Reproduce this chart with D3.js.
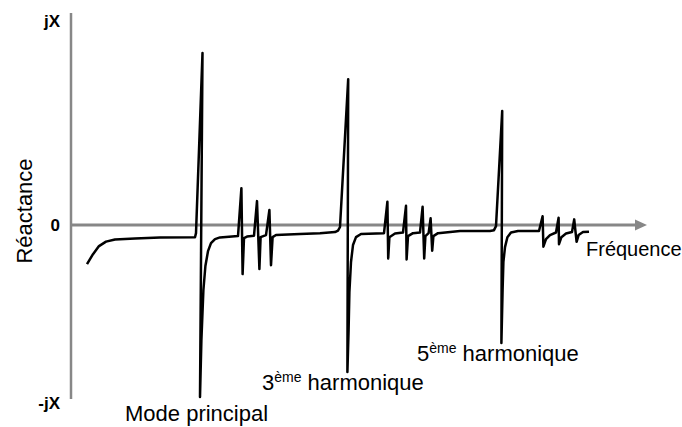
<!DOCTYPE html>
<html>
	<head>
		<meta charset="utf-8">
		<title>Réactance</title>
		<script src="https://d3js.org/d3.v7.min.js"></script>
		<style>
			body { margin: 0; background-color: white }
			#plot { width: 682px; height: 427px }
			text { font-family: 'Liberation Sans', Arial, sans-serif }
		</style>
	</head>
	<body>
		<div id='plot'></div>
		<script>
			// frequency (arbitrary units) and reactance (% of jX)
			var freq = [4.0, 5.5, 7.0, 8.75, 11.0, 16.0, 22.25, 31.0, 31.25, 32.875, 32.25, 32.6, 33.1, 33.6, 34.25, 35.0, 36.0, 37.25,
				41.75, 42.6, 42.9, 43.25, 44.0, 45.75, 46.5, 47.1, 47.4, 48.75, 49.6, 50.0, 50.4, 51.25, 57.25, 62.25,
				66.0, 66.75, 67.25, 69.3, 69.1, 69.4, 69.6, 70.0, 70.5, 71.25, 72.5, 78.25,
				79.1, 79.3, 79.6, 81.0, 83.0, 83.75, 83.9, 84.25, 85.5, 87.25, 87.9, 88.3, 88.6, 89.4, 89.9, 90.3, 90.6, 91.75, 97.25,
				104.75, 105.75, 106.25, 107.8, 107.6, 107.9, 108.1, 108.5, 109.1, 110.0, 111.75, 117.0,
				117.9, 118.1, 118.75, 119.75, 121.25, 121.9, 122.0, 122.6, 123.75, 125.25, 125.8, 126.4, 126.9, 128.0, 129.5]
			var reactance = [-18.4, -13.7, -9.9, -7.8, -6.8, -6.3, -5.9, -5.7, -3.8, 81.1, -81.1, -54.2, -30.6, -19.3, -12.3, -8.5, -6.6, -5.8,
				-5.2, 17.4, -23.1, -6.1, -5.4, -5.0, 11.3, -20.7, -5.7, -4.7, 7.1, -18.9, -5.7, -4.7, -4.2, -3.8,
				-3.3, -2.6, -0.9, 68.8, -69.3, -49.5, -31.6, -17.4, -9.4, -5.7, -4.2, -3.8,
				11.0, -15.7, -5.7, -4.0, -3.5, 9.1, -16.2, -5.2, -3.8, -3.5, 8.6, -15.7, -5.2, -3.8, 3.2, -12.1, -5.2, -3.8, -2.8,
				-2.8, -2.4, -0.5, 53.8, -55.6, -30.6, -17.4, -10.4, -5.7, -3.5, -2.8, -2.8,
				4.2, -10.2, -6.6, -4.7, -3.5, 3.5, -9.0, -5.7, -4.0, -3.3, 2.7, -7.9, -4.7, -3.3, -3.1]

			var yLabels = ['jX', '0', '-jX']
			var yLabelValues = [100, 0, -82]
			var modeLabels = [
				{num: '', sup: '', txt: 'Mode principal'},
				{num: '3', sup: 'ème', txt: ' harmonique'},
				{num: '5', sup: 'ème', txt: ' harmonique'}
			]

			var width = 682, height = 427
			var svg = d3.select('#plot').append('svg')
						.attr('width', width)
						.attr('height', height)

			var x = d3.scaleLinear().domain([0, 144]).range([71, 647])
			var y = d3.scaleLinear().domain([-82, 100]).range([399, 13])

		//AXES
			svg.append('line')
				.attr('x1', x(0)).attr('x2', x(0))
				.attr('y1', y(100)).attr('y2', y(-82))
				.attr('stroke', '#878787')
				.attr('stroke-width', 2.5)
			svg.append('line')
				.attr('x1', x(0)).attr('x2', x(144) - 10)
				.attr('y1', y(0)).attr('y2', y(0))
				.attr('stroke', '#878787')
				.attr('stroke-width', 3)
			svg.append('path')
				.attr('d', 'M' + x(144) + ',' + y(0) + 'L' + (x(144) - 12) + ',' + (y(0) - 5.5) + 'L' + (x(144) - 12) + ',' + (y(0) + 5.5) + 'Z')
				.attr('fill', '#878787')

			var labelDy = [14, 6, 10]
			svg.selectAll('.ylab')
				.data(yLabels)
				.enter()
				.append('text')
					.attr('class', 'ylab')
					.attr('x', 60)
					.attr('y', function(d, i) { return y(yLabelValues[i]) + labelDy[i] })
					.attr('text-anchor', 'end')
					.attr('font-weight', 'bold')
					.attr('font-size', '17px')
					.text(function(d) { return d })

			svg.append('text')
				.attr('transform', 'translate(32,211) rotate(-90)')
				.attr('text-anchor', 'middle')
				.attr('font-size', '22px')
				.text('Réactance')

			svg.append('text')
				.attr('x', 586)
				.attr('y', 256)
				.attr('font-size', '20px')
				.text('Fréquence')

		//CURVE
			var pts = freq.map(function(f, i) { return [f, reactance[i]] })
			var line = d3.line()
				.x(function(d) { return x(d[0]) })
				.y(function(d) { return y(d[1]) })

			svg.append('path')
				.datum(pts)
				.attr('d', line)
				.attr('fill', 'none')
				.attr('stroke', 'black')
				.attr('stroke-width', 2.5)
				.attr('stroke-linejoin', 'round')

		//MODE LABELS
			var labelPos = [[125, 421], [262, 390], [417, 361]]
			var lab = svg.selectAll('.mode')
				.data(modeLabels)
				.enter()
				.append('text')
					.attr('class', 'mode')
					.attr('x', function(d, i) { return labelPos[i][0] })
					.attr('y', function(d, i) { return labelPos[i][1] })
					.attr('font-size', '22px')
			lab.append('tspan').text(function(d) { return d.num })
			lab.append('tspan')
				.attr('font-size', '14px')
				.attr('dy', function(d) { return d.sup ? -8 : 0 })
				.text(function(d) { return d.sup })
			lab.append('tspan')
				.attr('dy', function(d) { return d.sup ? 8 : 0 })
				.style('white-space', 'pre')
				.text(function(d) { return d.txt })
		</script>
	</body>
</html>
